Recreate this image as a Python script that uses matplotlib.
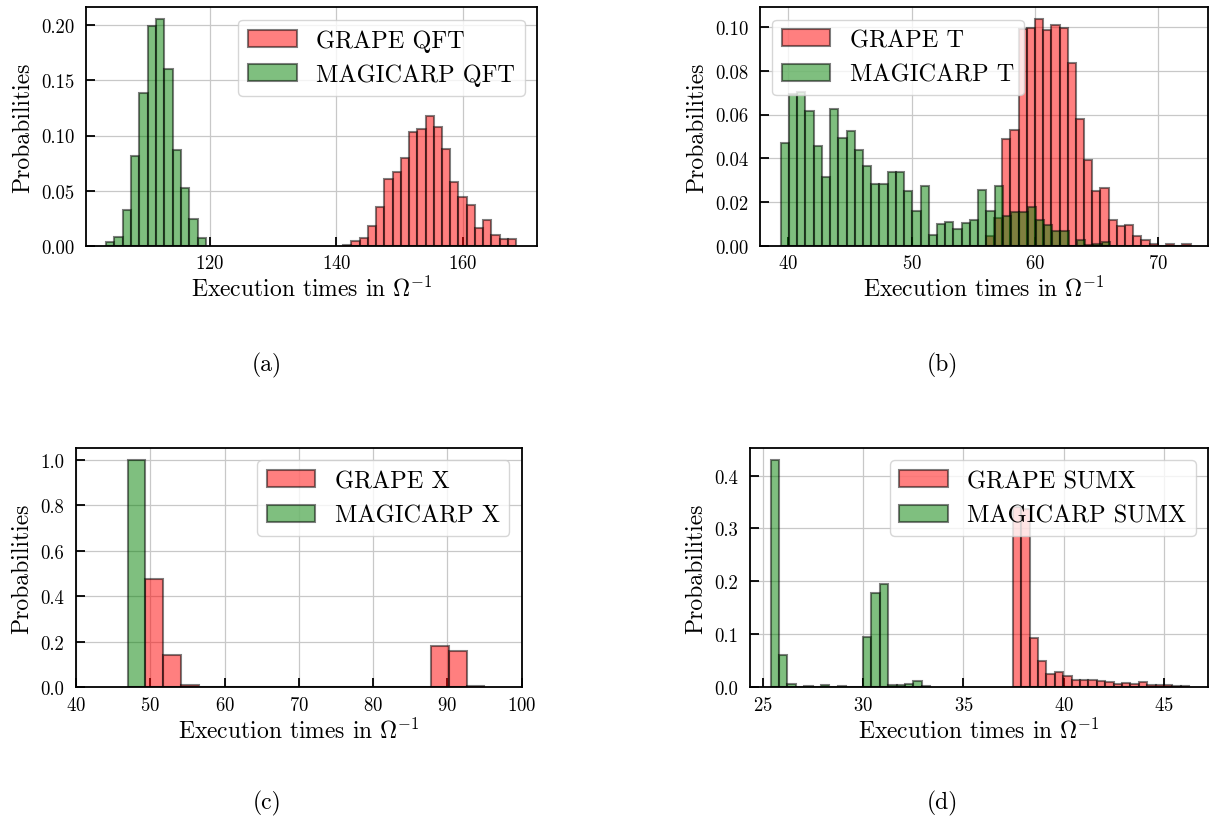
import matplotlib
matplotlib.use("Agg")
import matplotlib.pyplot as plt
import numpy as np

plt.rcParams['font.family'] = 'serif'
plt.rcParams['font.serif'] = ['cmr10']
plt.rcParams['mathtext.fontset'] = 'cm'
plt.rcParams['axes.formatter.use_mathtext'] = True
plt.rcParams['axes.unicode_minus'] = False

# probabilities per bin
# (a) QFT
qft_grape_range = (141.05, 168.4)
qft_grape = [0.001, 0.004, 0.007, 0.018, 0.035, 0.061, 0.067, 0.080, 0.103, 0.106, 0.118,
             0.108, 0.088, 0.058, 0.044, 0.037, 0.016, 0.023, 0.010, 0.006, 0.006]
qft_magic_range = (103.57, 119.36)
qft_magic = [0.003, 0.008, 0.032, 0.081, 0.139, 0.199, 0.206, 0.160, 0.087, 0.052, 0.024, 0.007]

# (b) T
t_grape_range = (56.01, 72.61)
t_grape = [0.0046, 0.0127, 0.0489, 0.0527, 0.0992, 0.0997, 0.1038, 0.0985, 0.1011, 0.0995,
           0.0835, 0.058, 0.0394, 0.0252, 0.0263, 0.0116, 0.0089, 0.0095, 0.0046, 0.0024,
           0.0008, 0.0, 0.0008, 0.0, 0.0008]
t_magic_range = (39.38, 66.06)
t_magic = [0.0469, 0.0695, 0.0705, 0.0614, 0.0458, 0.0315, 0.0623, 0.0491, 0.0523, 0.0440,
           0.0366, 0.0283, 0.0283, 0.0335, 0.0335, 0.0252, 0.0160, 0.0274, 0.0048, 0.0098,
           0.0108, 0.0077, 0.0106, 0.0118, 0.0254, 0.0160, 0.0272, 0.0137, 0.0154, 0.0154,
           0.0177, 0.0116, 0.0095, 0.0066, 0.0066, 0.0, 0.0024, 0.0005, 0.0008, 0.0018]

# (c) X
x_grape_range = (49.35, 95.0)
x_grape = [0.476, 0.1435, 0.010, 0, 0, 0, 0, 0, 0, 0, 0, 0, 0, 0, 0, 0, 0.183, 0.161, 0.007]
x_magic_range = (46.97, 49.35)
x_magic = [1.0]

# (d) SUMX
sumx_grape_range = (37.46, 46.238)
sumx_grape = [0.340, 0.336, 0.093, 0.050, 0.026, 0.028, 0.021, 0.0145, 0.014, 0.013, 0.0125,
              0.0095, 0.0063, 0.0088, 0.0063, 0.0101, 0.0044, 0.0044, 0.0038, 0.003, 0.003]
sumx_magic_range = (25.40, 33.342)
sumx_magic = [0.430, 0.061, 0.0057, 0.0, 0.002, 0.001, 0.004, 0.001, 0.0025, 0.0, 0.0,
              0.095, 0.178, 0.196, 0.004, 0.004, 0.0057, 0.012, 0.003]


def draw_hist(ax, probs, rng, color, label):
    edges = np.linspace(rng[0], rng[1], len(probs) + 1)
    ax.hist(edges[:-1], bins=edges, weights=probs, color=color, alpha=0.5,
            edgecolor='black', linewidth=1.5, label=label)


fig = plt.figure(figsize=(12.1, 8.2), dpi=100)

panels = [
    ([0.0711, 0.6991, 0.3727, 0.2907], qft_grape, qft_grape_range, qft_magic, qft_magic_range,
     'QFT', 'upper right', (100.4, 171.7), [120, 140, 160], [0, 0.05, 0.10, 0.15, 0.20], '(a)', (267, 365)),
    ([0.6281, 0.6991, 0.3705, 0.2907], t_grape, t_grape_range, t_magic, t_magic_range,
     'T', 'upper left', (37.7, 74.05), [40, 50, 60, 70], [0, 0.02, 0.04, 0.06, 0.08, 0.10], '(b)', (942, 365)),
    ([0.0628, 0.1606, 0.3683, 0.2915], x_grape, x_grape_range, x_magic, x_magic_range,
     'X', 'upper right', (40, 100), [40, 50, 60, 70, 80, 90, 100], [0, 0.2, 0.4, 0.6, 0.8, 1.0], '(c)', (267, 803)),
    ([0.6198, 0.1606, 0.3789, 0.2915], sumx_grape, sumx_grape_range, sumx_magic, sumx_magic_range,
     'SUMX', 'upper right', (24.37, 47.2), [25, 30, 35, 40, 45], [0, 0.1, 0.2, 0.3, 0.4], '(d)', (942, 803)),
]

for rect, g, grng, m, mrng, name, loc, xl, xt, yt, cap, cappos in panels:
    ax = fig.add_axes(rect)
    draw_hist(ax, g, grng, 'red', 'GRAPE ' + name)
    draw_hist(ax, m, mrng, 'green', 'MAGICARP ' + name)
    ax.set_xlim(xl)
    ax.set_xticks(xt)
    ax.set_yticks(yt)
    if yt[-1] < 0.3:
        ax.set_yticklabels(['%.2f' % v for v in yt])
    else:
        ax.set_yticklabels(['%.1f' % v for v in yt])
    ax.set_axisbelow(True)
    ax.grid(True, color='#c8c8c8', linewidth=0.9)
    ax.tick_params(direction='in', length=6.5, width=1.3, labelsize=13.5)
    ax.tick_params(axis='y', pad=8.5)
    ax.tick_params(axis='x', pad=6)
    for s in ax.spines.values():
        s.set_linewidth(1.3)
    ax.set_xlabel(r'Execution times in $\Omega^{-1}$', fontsize=17, labelpad=3)
    ax.set_ylabel('Probabilities', fontsize=17, labelpad=5)
    ax.legend(loc=loc, fontsize=17.5)
    fig.text(cappos[0] / 1210, 1 - cappos[1] / 820, cap, ha='center', va='center', fontsize=17)

fig.savefig('out.png', dpi=100)
